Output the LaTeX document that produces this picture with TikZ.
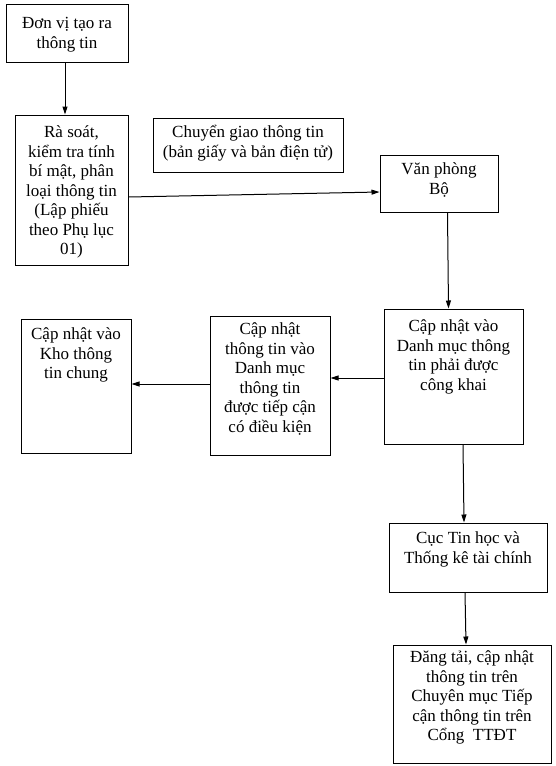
\documentclass[tikz,border=0pt]{standalone}
\usepackage{fontspec}
\setmainfont{Liberation Serif}
\usetikzlibrary{arrows.meta}
\begin{document}
\begin{tikzpicture}[x=1pt,y=-1pt,
  box/.style={draw,line width=1pt,minimum width=#1,inner sep=0pt},
  lbl/.style={anchor=north,inner sep=0pt,align=center,font=\fontsize{17}{19.5}\selectfont},
  arr/.style={line width=1pt,-{Triangle[length=8pt,width=5pt]}}]
\useasboundingbox (0,0) rectangle (556,766);
% boxes
\node[box=122pt,minimum height=58pt]  (b1) at (67,33) {};
\node[box=113pt,minimum height=150pt] (b2) at (71.5,190) {};
\node[box=190pt,minimum height=54pt]  (bc) at (248,145) {};
\node[box=118pt,minimum height=57pt]  (b3) at (439,183.5) {};
\node[box=139pt,minimum height=135pt] (b4) at (453.5,376.5) {};
\node[box=120pt,minimum height=139pt] (b5) at (270,385.5) {};
\node[box=110pt,minimum height=134pt] (b6) at (76,386) {};
\node[box=158pt,minimum height=69pt]  (b7) at (468,557.5) {};
\node[box=158pt,minimum height=118pt] (b8) at (472,704) {};
% texts
\node[lbl,yshift=-11.35pt] (t1) at (b1.north) {\strut Đơn vị tạo ra\\thông tin};
\node[lbl,yshift=-9.35pt]  (t2) at (b2.north) {\strut Rà soát,\\kiểm tra tính\\bí mật, phân\\loại thông tin\\(Lập phiếu\\theo Phụ lục\\01)};
\node[lbl,yshift=-6.35pt]  (tc) at (bc.north) {\strut Chuyển giao thông tin\\(bản giấy và bản điện tử)};
\node[lbl,yshift=-6.35pt]  (t3) at (b3.north) {\strut Văn phòng\\Bộ};
\node[lbl,yshift=-9.35pt]  (t4) at (b4.north) {\strut Cập nhật vào\\Danh mục thông\\tin phải được\\công khai};
\node[lbl,yshift=-5.35pt]  (t5) at (b5.north) {\strut Cập nhật\\thông tin vào\\Danh mục\\thông tin\\được tiếp cận\\có điều kiện};
\node[lbl,yshift=-7.35pt]  (t6) at (b6.north) {\strut Cập nhật vào\\Kho thông\\tin chung};
\node[lbl,yshift=-7.35pt]  (t7) at (b7.north) {\strut Cục Tin học và\\Thống kê tài chính};
\node[lbl,yshift=-4.35pt]  (t8) at (b8.north) {\strut Đăng tải, cập nhật\\thông tin trên\\Chuyên mục Tiếp\\cận thông tin trên\\Cổng\ \ TTĐT};
% connectors
\draw[arr] ([xshift=-2pt]b1.south) -- ([xshift=-6.5pt]b2.north);
\draw[arr] ([yshift=-7pt]b2.east) -- ([yshift=-8.5pt]b3.west);
\draw[arr] ([xshift=8.5pt]b3.south) -- ([xshift=-5pt]b4.north);
\draw[arr] ([yshift=-1.5pt]b4.west) -- ([yshift=7.5pt]b5.east);
\draw[arr] ([yshift=1.5pt]b5.west) -- ([yshift=2pt]b6.east);
\draw[arr] ([xshift=9.5pt]b4.south) -- ([xshift=-4pt]b7.north);
\draw[arr] ([xshift=-3pt]b7.south) -- ([xshift=-6pt]b8.north);
\end{tikzpicture}
\end{document}
